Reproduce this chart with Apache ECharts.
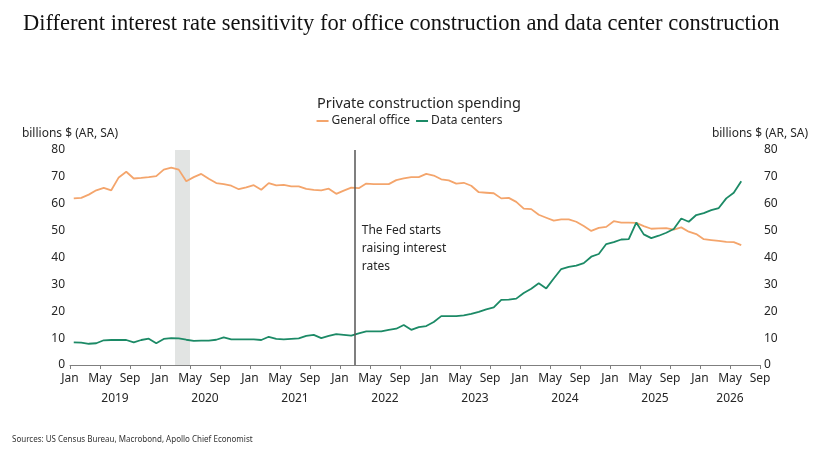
<!DOCTYPE html>
<html>
<head>
<meta charset="utf-8">
<script src="https://cdn.jsdelivr.net/npm/echarts@6/dist/echarts.min.js"></script>
<style>
html,body{margin:0;padding:0;background:#fff;}
#chart{width:819px;height:455px;}
</style>
</head>
<body>
<div id="chart"></div>
<script>
// Monthly data, Jan 2019 .. Jun 2026 (billions $, AR, SA)
var startYear = 2019;
var office = [
  62.0,62.2,63.4,65.0,65.9,65.0,69.8,71.9,69.4,69.6,69.9,70.3,
  72.7,73.4,72.7,68.4,69.9,71.1,69.3,67.7,67.3,66.7,65.4,66.1,
  66.9,65.2,67.7,66.8,67.0,66.5,66.5,65.5,65.2,65.0,65.6,63.7,
  64.9,66.0,65.8,67.5,67.3,67.3,67.3,68.8,69.4,69.9,69.9,71.1,
  70.5,69.1,68.7,67.5,67.8,66.7,64.3,64.1,63.9,62.0,62.2,60.7,
  58.2,58.0,55.9,54.8,53.7,54.2,54.2,53.3,51.7,49.9,51.0,51.4,
  53.5,53.0,53.0,52.9,51.7,50.7,50.8,50.9,50.4,51.2,49.6,48.7,
  46.8,46.5,46.2,45.8,45.7,44.6
];
var dataCenters = [
  8.4,8.3,7.9,8.1,9.2,9.3,9.3,9.3,8.4,9.3,9.8,8.1,
  9.7,10.0,9.9,9.4,9.0,9.1,9.1,9.4,10.3,9.5,9.5,9.5,
  9.5,9.3,10.5,9.7,9.5,9.7,9.9,10.8,11.2,10.0,10.8,11.5,
  11.2,10.9,11.8,12.5,12.5,12.5,13.1,13.5,14.9,13.1,14.1,14.5,
  16.0,18.2,18.2,18.2,18.5,19.0,19.8,20.7,21.4,24.2,24.3,24.7,
  26.8,28.4,30.4,28.5,32.2,35.7,36.5,37.0,37.9,40.3,41.3,45.0,
  45.7,46.7,46.8,53.0,48.6,47.2,48.1,49.2,50.6,54.5,53.3,55.8,
  56.5,57.6,58.4,62.0,64.1,68.4
];
var monthTickLabels = ['Jan','May','Sep'];
var yearLabels = ['2019','2020','2021','2022','2023','2024','2025','2026'];
var recession = [14, 16];      // Mar 2020 .. May 2020 (months since Jan 2019)
var fedHike = 38;              // Mar 2022
var fedText = 'The Fed starts\nraising interest\nrates';
var axisMonths = 92;           // Jan 2019 .. Sep 2026

var FONT = 'Noto Sans';
var TXT = '#262626';
var ORANGE = '#F4A56C';
var GREEN = '#1C8A66';

function pairs(arr){ return arr.map(function(v,i){ return [i + 0.5, v]; }); }

// category data for the year-label axis
var monthCats = [];
for (var k = 0; k <= axisMonths; k++) monthCats.push(yearLabels[Math.floor(k/12)] || '');

var chart = echarts.init(document.getElementById('chart'), null, {renderer:'canvas'});
chart.setOption({
  animation: false,
  backgroundColor: '#fff',
  title: [
    {text: 'Different interest rate sensitivity for office construction and data center construction',
     left: 18, top: 8,
     textStyle: {fontFamily: 'Liberation Serif', fontSize: 22.5, fontWeight: 'normal', color: '#111'}},
    {text: 'Private construction spending', left: 414, top: 91, textAlign: 'center',
     textStyle: {fontFamily: FONT, fontSize: 14.5, fontWeight: 'normal', color: TXT}},
    {text: 'Sources: US Census Bureau, Macrobond, Apollo Chief Economist', left: 7, top: 431,
     textStyle: {fontFamily: FONT, fontSize: 8, fontWeight: 'normal', color: '#333'}}
  ],
  legend: {
    data: ['General office','Data centers'],
    top: 110, left: 'center',
    icon: 'rect', itemWidth: 12, itemHeight: 2, itemGap: 6,
    textStyle: {fontFamily: FONT, fontSize: 12, color: TXT, padding: [0,0,0,-2]}
  },
  grid: {left: 70, right: 59, top: 150, bottom: 90, containLabel: false},
  xAxis: [
    {type: 'value', min: 0, max: axisMonths, interval: 4,
     axisLine: {show: true, lineStyle: {color: '#7f7f7f', width: 1}},
     axisTick: {show: true, length: 4, lineStyle: {color: '#7f7f7f'}},
     splitLine: {show: false},
     axisLabel: {fontFamily: FONT, fontSize: 12, color: TXT, margin: 8,
       formatter: function(v){ return monthTickLabels[(v/4) % 3]; }}
    },
    {type: 'category', position: 'bottom', offset: 19, data: monthCats, boundaryGap: false,
     axisLine: {show: false}, axisTick: {show: false},
     axisLabel: {fontFamily: FONT, fontSize: 12, color: TXT, margin: 9,
       interval: function(i){ return (i % 12 === 6 && i < 84) || i === 88; }}
    }
  ],
  yAxis: [
    {type: 'value', min: 0, max: 80, interval: 10, position: 'left',
     name: 'billions $ (AR, SA)', nameLocation: 'end', nameGap: 10,
     nameTextStyle: {fontFamily: FONT, fontSize: 12, color: TXT, align: 'center'},
     axisLine: {show: false}, axisTick: {show: false}, splitLine: {show: false},
     axisLabel: {fontFamily: FONT, fontSize: 12, color: TXT, margin: 5}},
    {type: 'value', min: 0, max: 80, interval: 10, position: 'right',
     name: 'billions $ (AR, SA)', nameLocation: 'end', nameGap: 10,
     nameTextStyle: {fontFamily: FONT, fontSize: 12, color: TXT, align: 'center'},
     axisLine: {show: false}, axisTick: {show: false}, splitLine: {show: false},
     axisLabel: {fontFamily: FONT, fontSize: 12, color: TXT, margin: 4}}
  ],
  series: [
    {name: 'markers', type: 'line', data: [], z: 1, silent: true,
     markArea: {silent: true, itemStyle: {color: '#E2E4E3'},
       data: [[{xAxis: recession[0]}, {xAxis: recession[1]}]]},
     markLine: {silent: true, symbol: ['none','none'],
       lineStyle: {color: '#555', width: 1.5, type: 'solid'},
       label: {show: false},
       data: [{xAxis: fedHike}]},
     markPoint: {silent: true, symbol: 'circle', symbolSize: 0,
       data: [{coord: [fedHike + 0.9, 43.5],
         label: {show: true, position: 'right', distance: 0, formatter: fedText,
           align: 'left', verticalAlign: 'middle',
           fontFamily: FONT, fontSize: 12, lineHeight: 18, color: TXT}}]}
    },
    {name: 'General office', type: 'line', data: pairs(office), z: 3,
     showSymbol: false, symbol: 'none', lineStyle: {color: ORANGE, width: 1.8}, itemStyle: {color: ORANGE}},
    {name: 'Data centers', type: 'line', data: pairs(dataCenters), z: 4,
     showSymbol: false, symbol: 'none', lineStyle: {color: GREEN, width: 1.8}, itemStyle: {color: GREEN}}
  ]
});
</script>
</body>
</html>
